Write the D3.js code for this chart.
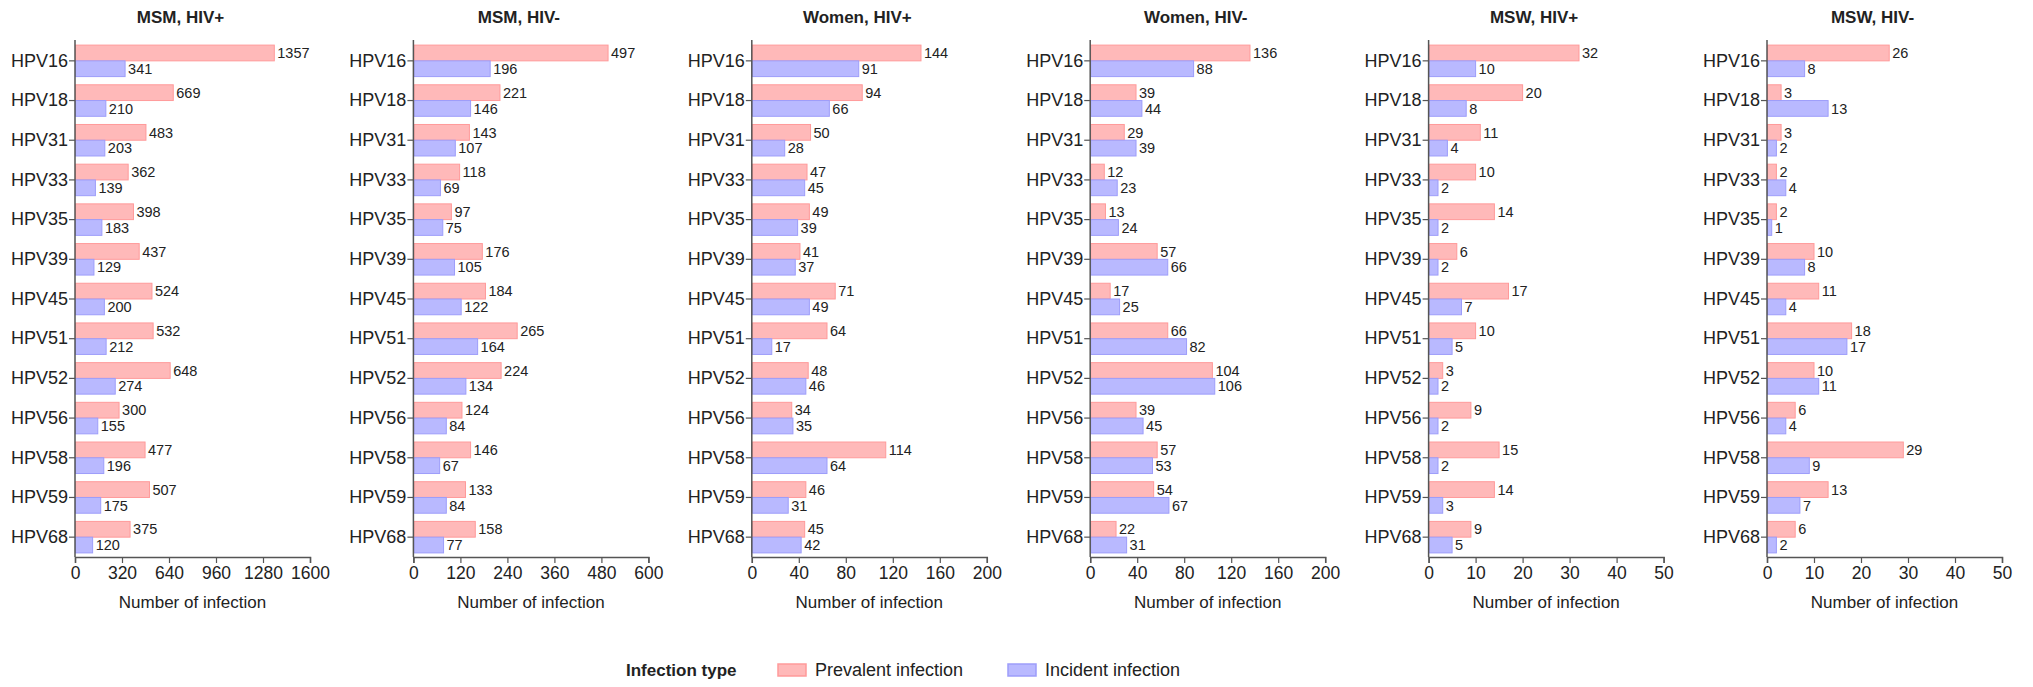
<!DOCTYPE html>
<html>
<head>
<meta charset="utf-8">
<script src="https://cdn.jsdelivr.net/npm/d3@7"></script>
<style>
  body { margin: 0; background: #fff; }
  svg text { font-family: Arial, "Liberation Sans", Helvetica, sans-serif; fill: #222; }
</style>
</head>
<body>
<div id="chart"></div>
<script>
const types = ["HPV16", "HPV18", "HPV31", "HPV33", "HPV35", "HPV39", "HPV45",
  "HPV51", "HPV52", "HPV56", "HPV58", "HPV59", "HPV68"];

const groups = ["MSM, HIV+", "MSM, HIV-", "Women, HIV+", "Women, HIV-", "MSW, HIV+", "MSW, HIV-"];
const axisMax = [1600, 600, 200, 200, 50, 50];
const tickStep = [320, 120, 40, 40, 10, 10];

const prevalent = [
  [1357, 669, 483, 362, 398, 437, 524, 532, 648, 300, 477, 507, 375],
  [497, 221, 143, 118, 97, 176, 184, 265, 224, 124, 146, 133, 158],
  [144, 94, 50, 47, 49, 41, 71, 64, 48, 34, 114, 46, 45],
  [136, 39, 29, 12, 13, 57, 17, 66, 104, 39, 57, 54, 22],
  [32, 20, 11, 10, 14, 6, 17, 10, 3, 9, 15, 14, 9],
  [26, 3, 3, 2, 2, 10, 11, 18, 10, 6, 29, 13, 6]
];
const incident = [
  [341, 210, 203, 139, 183, 129, 200, 212, 274, 155, 196, 175, 120],
  [196, 146, 107, 69, 75, 105, 122, 164, 134, 84, 67, 84, 77],
  [91, 66, 28, 45, 39, 37, 49, 17, 46, 35, 64, 31, 42],
  [88, 44, 39, 23, 24, 66, 25, 82, 106, 45, 53, 67, 31],
  [10, 8, 4, 2, 2, 2, 7, 5, 2, 2, 2, 3, 5],
  [8, 13, 2, 4, 1, 8, 4, 17, 11, 4, 9, 7, 2]
];

const seriesNames = ["Prevalent infection", "Incident infection"];
const fills = ["#ffb9b9", "#b9b9ff"];
const strokes = ["#ff9a9a", "#9d9dfa"];

const width = 2033;
const height = 687;
const plotW = 235;
const plotTop = 41, plotBottom = 557;

const svg = d3.select("#chart")
  .append("svg")
  .attr("width", width)
  .attr("height", height);

const y = d3.scaleBand()
  .domain(types)
  .range([plotTop, plotBottom])
  .paddingInner(0)
  .paddingOuter(0);

const ySub = d3.scaleBand()
  .domain([0, 1])
  .range([0, y.bandwidth()])
  .paddingOuter(0.26)
  .paddingInner(0);

groups.forEach((name, gi) => {
  const x0 = 75 + gi * 338.4;
  const x = d3.scaleLinear()
    .domain([0, axisMax[gi]])
    .range([0, plotW]);

  const g = svg.append("g")
    .attr("transform", `translate(${x0},0)`);

  // title
  g.append("text")
    .attr("x", plotW / 2 - 12)
    .attr("y", 23)
    .attr("text-anchor", "middle")
    .attr("font-size", 17)
    .attr("font-weight", "bold")
    .text(name);

  const rows = types.map((t, i) => ({
    type: t,
    vals: [prevalent[gi][i], incident[gi][i]]
  }));

  const row = g.selectAll(".row")
    .data(rows)
    .join("g")
    .attr("class", "row")
    .attr("transform", d => `translate(0,${y(d.type)})`);

  row.selectAll("rect")
    .data(d => d.vals.map((v, k) => ({ v, k })))
    .join("rect")
    .attr("x", 0.5)
    .attr("y", d => ySub(d.k))
    .attr("width", d => Math.max(0, x(d.v) - 0.5))
    .attr("height", ySub.bandwidth())
    .attr("fill", d => fills[d.k])
    .attr("stroke", d => strokes[d.k])
    .attr("stroke-width", 1);

  row.selectAll("text.val")
    .data(d => d.vals.map((v, k) => ({ v, k })))
    .join("text")
    .attr("class", "val")
    .attr("x", d => x(d.v) + 3)
    .attr("y", d => ySub(d.k) + ySub.bandwidth() / 2)
    .attr("dy", "0.36em")
    .attr("font-size", 14.5)
    .text(d => d.v);

  // axes
  const xAxis = g.append("g")
    .attr("transform", `translate(0,${plotBottom})`)
    .call(d3.axisBottom(x)
      .tickValues(d3.range(0, axisMax[gi] + 1, tickStep[gi]))
      .tickFormat(d3.format("d"))
      .tickSize(6)
      .tickPadding(4));

  const yAxis = g.append("g")
    .call(d3.axisLeft(y).tickSize(6).tickPadding(1).tickSizeOuter(0));

  [xAxis, yAxis].forEach(a => {
    a.select(".domain").attr("stroke", "#555").attr("stroke-width", 1.5);
    a.selectAll(".tick line").attr("stroke", "#555").attr("stroke-width", 1.2);
    a.selectAll("text").attr("fill", "#222").attr("font-family", "Arial, 'Liberation Sans', sans-serif");
  });
  xAxis.selectAll(".tick text").attr("font-size", 17.5);
  yAxis.selectAll(".tick text").attr("font-size", 18);
  // y axis line spans full height to the x axis
  yAxis.select(".domain").attr("d", `M0,${plotTop - 1}V${plotBottom}`);

  g.append("text")
    .attr("x", plotW / 2)
    .attr("y", 608)
    .attr("text-anchor", "middle")
    .attr("font-size", 17)
    .text("Number of infection");
});

// legend
const legend = svg.append("g").attr("transform", "translate(0,670)");
legend.append("text")
  .attr("x", 626)
  .attr("y", 0)
  .attr("dy", "0.35em")
  .attr("font-size", 17)
  .attr("font-weight", "bold")
  .text("Infection type");

const legX = [778, 1008];
seriesNames.forEach((s, k) => {
  legend.append("rect")
    .attr("x", legX[k])
    .attr("y", -6)
    .attr("width", 28)
    .attr("height", 12)
    .attr("fill", fills[k])
    .attr("stroke", strokes[k])
    .attr("stroke-width", 1.5);
  legend.append("text")
    .attr("x", legX[k] + 37)
    .attr("y", 0)
    .attr("dy", "0.35em")
    .attr("font-size", 18)
    .text(s);
});
</script>
</body>
</html>
